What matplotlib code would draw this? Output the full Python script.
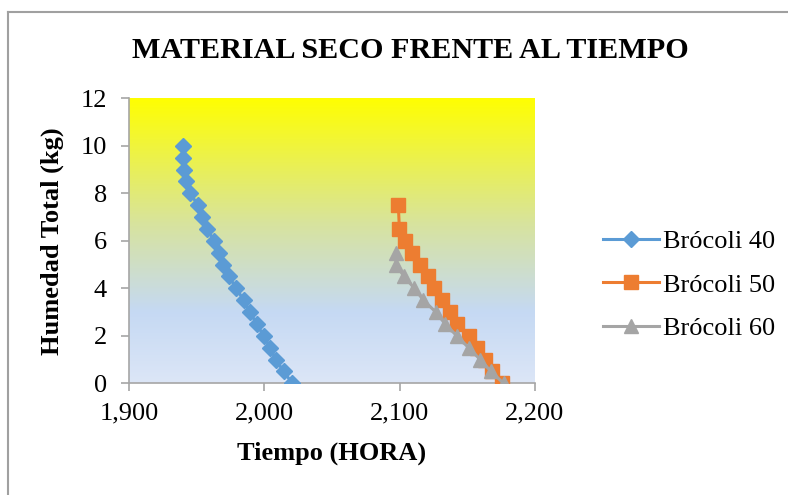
import matplotlib.pyplot as plt
import numpy as np
from matplotlib.lines import Line2D
from matplotlib.colors import LinearSegmentedColormap

# datos
hum_40 = [10, 9.5, 9, 8.5, 8, 7.5, 7, 6.5, 6, 5.5, 5, 4.5, 4, 3.5, 3, 2.5, 2, 1.5, 1, 0.5, 0]
t_40 = [1939.7, 1939.7, 1940.5, 1942.2, 1945.4, 1950.8, 1953.6, 1957.8, 1962.7, 1966.7,
        1969.4, 1973.8, 1979.3, 1984.7, 1989.4, 1994.3, 1999.5, 2004.4, 2008.4, 2014.3, 2020.7]

hum_50 = [7.5, 6.5, 6, 5.5, 5, 4.5, 4, 3.5, 3, 2.5, 2, 1.5, 1, 0.5, 0]
t_50 = [2099.0, 2099.8, 2103.9, 2108.9, 2115.1, 2120.7, 2125.0, 2131.1, 2137.3,
        2142.2, 2150.9, 2157.0, 2163.2, 2168.1, 2175.6]

hum_60 = [5.5, 5, 4.5, 4, 3.5, 3, 2.5, 2, 1.5, 1, 0.5, 0]
t_60 = [2097.3, 2097.3, 2103.2, 2110.9, 2117.5, 2126.7, 2133.6, 2142.2, 2150.9,
        2159.5, 2167.4, 2176.8]

plt.rcParams['font.family'] = ['Liberation Serif', 'DejaVu Serif']

fig = plt.figure(figsize=(7.88, 4.95), dpi=100)
ax = fig.add_axes([129/788, 1 - 383.3/495, (535 - 129)/788, (383.3 - 98.3)/495])

# fondo degradado amarillo -> azul claro
cmap = LinearSegmentedColormap.from_list('fondo', [(0, '#DCE6F7'), (0.25, '#C5D9F3'), (0.55, '#D7E3A0'), (1, '#FFFF00')])
grad = np.linspace(0, 1, 256).reshape(-1, 1)
ax.imshow(grad, cmap=cmap, origin='lower', aspect='auto', extent=[1900, 2200, 0, 12], zorder=0)

ax.plot(t_40, hum_40, color='#5B9BD5', marker='D', markersize=8.5, linewidth=2.2, label='Brócoli 40', zorder=3)
ax.plot(t_50, hum_50, color='#ED7D31', marker='s', markersize=10, linewidth=2.2, label='Brócoli 50', zorder=3)
ax.plot(t_60, hum_60, color='#A5A5A5', marker='^', markersize=10, linewidth=2.2, label='Brócoli 60', zorder=4)

ax.set_xlim(1900, 2200)
ax.set_ylim(0, 12)
ax.set_xticks([1900, 2000, 2100, 2200])
ax.set_xticklabels(['1,900', '2,000', '2,100', '2,200'])
ax.set_yticks(range(0, 13, 2))

for s in ['top', 'right']:
    ax.spines[s].set_visible(False)
for s in ['left', 'bottom']:
    ax.spines[s].set_color('#A6A6A6')
    ax.spines[s].set_linewidth(1.2)
ax.tick_params(colors='#A6A6A6', labelcolor='black', labelsize=19, length=6, width=1.2)
ax.tick_params(axis='y', pad=10)
ax.tick_params(axis='x', pad=8)

ax.set_xlabel('Tiempo (HORA)', fontsize=19, fontweight='bold', labelpad=12)
ax.set_ylabel('Humedad Total (kg)', fontsize=19, fontweight='bold', labelpad=12)
fig.text(410/788, 1 - 51/495, 'MATERIAL SECO FRENTE AL TIEMPO', ha='center', va='center',
         fontsize=21.7, fontweight='bold')

ax.legend(loc='center left', bbox_to_anchor=(1.11, 0.345), frameon=False, fontsize=19,
          handlelength=2.1, handletextpad=0.15, labelspacing=0.75)

# borde del area del grafico (solo izquierda y arriba visibles)
fig.add_artist(Line2D([7.5/788, 7.5/788], [0, 1 - 11.5/495], color='#A0A0A0', linewidth=1.5))
fig.add_artist(Line2D([7.5/788, 1], [1 - 11.5/495, 1 - 11.5/495], color='#A0A0A0', linewidth=1.5))

fig.savefig('out.png', dpi=100)
